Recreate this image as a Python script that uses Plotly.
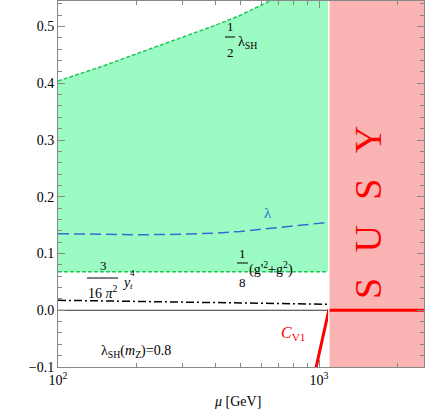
import plotly.graph_objects as go

# ---- data ----
mu_band = [100, 150, 200, 300, 400, 500, 600, 700, 800, 1000, 1090]
half_lam_sh = [0.404, 0.431, 0.452, 0.481, 0.502, 0.520, 0.537, 0.552, 0.565, 0.587, 0.597]
gauge_term = [0.068, 0.068, 0.068, 0.068, 0.068, 0.068, 0.068, 0.068, 0.068, 0.068, 0.068]

mu_lam = [100, 150, 200, 300, 400, 500, 600, 700, 800, 1000, 1090]
lam = [0.135, 0.134, 0.133, 0.134, 0.136, 0.139, 0.143, 0.146, 0.149, 0.153, 0.155]

mu_yt = [100, 200, 300, 500, 700, 1000, 1090]
yt_term = [0.0176, 0.0157, 0.0146, 0.0131, 0.0121, 0.0109, 0.0106]

mu_zero = [100, 1090]
zero_line = [0.0, 0.0]

mu_cv1 = [964, 1090, 2600]
cv1 = [-0.11, 0.0, 0.0]

susy_start = 1090
x_range_log = [2.0, 3.402]
y_range = [-0.1, 0.545]

x_tickvals = [100, 1000]
x_ticktext = ["10<sup>2</sup>", "10<sup>3</sup>"]
x_minor = [200, 300, 400, 500, 600, 700, 800, 900, 2000]
y_tickvals = [-0.1, 0.0, 0.1, 0.2, 0.3, 0.4, 0.5]
y_ticktext = ["\u22120.1", "0.0", "0.1", "0.2", "0.3", "0.4", "0.5"]

GREEN_LINE = "#1ec85a"
GREEN_FILL = "#9cfbc3"
PINK = "#fbb4b4"
BLUE = "#3a6ad0"
SERIF = "Liberation Serif"

fig = go.Figure()

fig.add_trace(go.Scatter(x=mu_band, y=gauge_term, mode="lines",
                         line=dict(color=GREEN_LINE, width=1.5, dash="4px,2px")))
fig.add_trace(go.Scatter(x=mu_band, y=half_lam_sh, mode="lines", fill="tonexty",
                         fillcolor=GREEN_FILL,
                         line=dict(color=GREEN_LINE, width=1.5, dash="4px,2px")))
fig.add_trace(go.Scatter(x=mu_lam, y=lam, mode="lines",
                         line=dict(color=BLUE, width=1.5, dash="11px,5px")))
fig.add_trace(go.Scatter(x=mu_yt, y=yt_term, mode="lines",
                         line=dict(color="black", width=1.5, dash="8px,3px,2px,3px")))
fig.add_trace(go.Scatter(x=mu_zero, y=zero_line, mode="lines",
                         line=dict(color="black", width=0.8)))
fig.add_trace(go.Scatter(x=mu_cv1, y=cv1, mode="lines",
                         line=dict(color="red", width=3)))

# SUSY region
fig.add_shape(type="rect", xref="x", yref="paper", x0=susy_start, x1=10 ** x_range_log[1],
              y0=0, y1=1, fillcolor=PINK, line=dict(width=0), layer="below")
fig.add_shape(type="line", xref="x", yref="paper", x0=susy_start, x1=susy_start,
              y0=0, y1=1, line=dict(color="white", width=1.5), layer="above")

L, R, T, B = 58, 1, 1, 47
W, H = 425, 414
pw, ph = W - L - R, H - T - B


def px(x):
    return (x - L) / pw


def py(y):
    return (H - B - y) / ph


def txt(x, y, s, size=14, color="black", xanchor="center", angle=0):
    fig.add_annotation(x=px(x), y=py(y), xref="paper", yref="paper", text=s,
                       showarrow=False, xanchor=xanchor, yanchor="middle",
                       textangle=angle,
                       font=dict(family=SERIF, size=size, color=color))


def bar(x0, x1, y):
    fig.add_shape(type="line", xref="paper", yref="paper", x0=px(x0), x1=px(x1),
                  y0=py(y), y1=py(y), line=dict(color="black", width=1))


# 1/2 lambda_SH
txt(230, 27, "1", 13)
bar(225, 235, 37)
txt(230, 52, "2", 13)
txt(236, 42, "λ<sub>SH</sub>", 14, xanchor="left")

# lambda
txt(268, 213, "λ", 15, color=BLUE)

# 1/8 (g'^2+g^2)
txt(242.5, 253, "1", 13)
bar(237, 248, 263)
txt(242.5, 282, "8", 13)
txt(247, 268, "(g'<sup>2</sup>+g<sup>2</sup>)", 14, xanchor="left")

# 3/(16 pi^2) y_t^4
txt(103, 265, "3", 13)
bar(87, 118, 278)
txt(103, 292, "16 <i>π</i><sup>2</sup>", 14)
txt(120, 282, "<i>y</i>", 14, xanchor="left")
txt(128, 273, "4", 9, xanchor="left")
txt(128, 286, "<i>t</i>", 9, xanchor="left")

# lambda_SH(m_Z)=0.8
txt(136, 351, "λ<sub>SH</sub>(<i>m</i><sub>Z</sub>)=0.8", 14)

# C_V1
txt(293, 333, "<i>C</i><sub>V1</sub>", 16, color="red")

# SUSY
nb = "\u00a0\u00a0\u2006"
txt(368, 213, "S" + nb + "U" + nb + "S" + nb + "Y", 38, color="red", angle=-90)

# x axis title
txt(237, 401, "<i>μ</i> [GeV]", 14)

fig.update_layout(
    width=W, height=H,
    margin=dict(l=L, r=R, t=T, b=B, autoexpand=False),
    plot_bgcolor="white", paper_bgcolor="white",
    showlegend=False,
    font=dict(family=SERIF, size=14, color="black"),
)

axis_common = dict(showline=True, linecolor="#888888", linewidth=1, mirror="allticks",
                   ticks="inside", tickcolor="#888888", showgrid=False, zeroline=False,
                   automargin=False)

fig.update_xaxes(type="log", range=x_range_log, tickmode="array",
                 tickvals=x_tickvals, ticktext=x_ticktext, ticklen=7,
                 minor=dict(tickmode="array", tickvals=x_minor, ticks="inside",
                            ticklen=4, tickcolor="#888888"),
                 tickfont=dict(family=SERIF, size=14),
                 **axis_common)
fig.update_yaxes(range=y_range, tickmode="array", tickvals=y_tickvals, ticktext=y_ticktext,
                 ticklen=7,
                 minor=dict(dtick=0.02, ticks="inside", ticklen=4, tickcolor="#888888"),
                 tickfont=dict(family=SERIF, size=14),
                 **axis_common)

fig.write_html("out.html", config={"displayModeBar": False},
               post_script="document.body.style.margin='0';document.body.style.overflow='hidden';")
